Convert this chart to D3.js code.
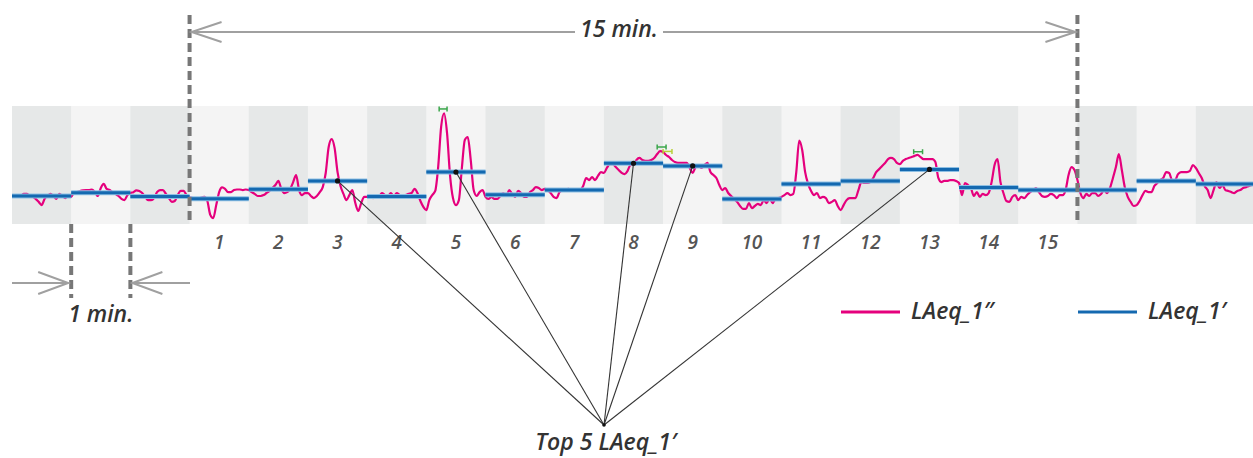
<!DOCTYPE html>
<html lang="en">
<head>
<meta charset="UTF-8">
<title>LAeq 15 min</title>
<script src="https://d3js.org/d3.v7.min.js"></script>
<style>
    body { margin: 0; background: #fff; }
    text { font-family: "Open Sans", "Noto Sans", sans-serif; font-style: italic; font-weight: 600; }
</style>
</head>
<body>
<svg width="1253" height="458"></svg>

<script>
    // minute labels (3 minutes before and after the 15 minute window are unlabelled)
    var minuteLabels = ["", "", "", "1", "2", "3", "4", "5", "6", "7", "8", "9", "10",
        "11", "12", "13", "14", "15", "", "", ""];

    // LAeq_1' per minute (dB)
    var laeqMinute = [49.5, 50.6, 49.3, 48.6, 51.8, 54.6, 49.3, 57.6, 49.9, 51.5, 60.6,
        59.7, 48.5, 53.6, 54.6, 58.5, 52.4, 51.5, 51.5, 54.6, 53.6];

    // LAeq_1" read every 3 s (dB), 20 per minute
    var laeqSecond = [
        49.5, 49.5, 49.2, 49.5, 50.2, 50.2, 49.5, 49.2, 48.5, 47.5, 46.4, 48.5, 49.5, 50.2, 49.5, 48.5, 50.2, 49.5, 48.8, 49.8,
        49.2, 50.7, 50.8, 51.2, 51.4, 51.5, 51.5, 51.7, 50.8, 49.5, 52.2, 53.6, 51.9, 51.5, 50.8, 50.2, 49.5, 48.5, 48.1, 49.8,
        50.5, 50.8, 51.4, 51.2, 50.5, 49.2, 48.1, 48.1, 48.8, 50.8, 51.5, 51.5, 50.2, 48.8, 47.5, 47.8, 49.8, 51.2, 51.2, 49.8,
        49.2, 48.8, 48.3, 48.5, 49.0, 49.2, 47.8, 43.1, 42.0, 46.4, 50.8, 52.4, 51.9, 50.8, 50.8, 51.5, 51.7, 51.7, 51.5, 51.7,
        51.5, 50.8, 50.2, 49.5, 49.5, 49.8, 50.5, 51.2, 52.2, 53.2, 54.6, 51.9, 50.5, 50.8, 51.9, 54.2, 56.6, 51.5, 49.8, 50.5,
        50.5, 49.5, 48.8, 49.5, 50.8, 52.5, 57.3, 66.1, 68.8, 65.8, 57.6, 52.9, 50.2, 48.1, 49.8, 51.5, 47.1, 44.4, 47.1, 49.2,
        49.2, 49.8, 48.8, 49.8, 49.5, 50.5, 49.8, 49.5, 50.5, 49.5, 50.5, 49.8, 49.5, 49.8, 50.2, 50.5, 51.9, 50.5, 47.8, 45.8,
        44.7, 48.1, 49.8, 51.2, 59.3, 72.9, 77.5, 70.8, 56.6, 48.8, 46.4, 48.1, 58.9, 68.5, 69.5, 61.7, 51.5, 49.5, 50.8, 51.5,
        49.2, 48.5, 49.2, 48.5, 48.5, 49.5, 50.5, 49.5, 51.5, 50.2, 49.2, 51.2, 50.5, 49.2, 49.2, 50.8, 51.5, 52.5, 52.2, 51.5,
        51.9, 51.5, 50.5, 49.2, 48.8, 50.8, 51.5, 51.7, 51.9, 51.5, 51.5, 51.2, 51.5, 52.9, 55.6, 54.9, 55.9, 54.9, 56.3, 57.6,
        57.3, 59.0, 60.3, 60.3, 59.3, 58.3, 57.3, 56.9, 58.0, 60.0, 60.0, 61.7, 62.4, 61.7, 61.4, 61.4, 61.7, 62.4, 63.7, 64.7,
        64.4, 63.4, 62.7, 61.7, 61.0, 60.7, 60.7, 60.7, 60.7, 59.0, 57.3, 59.3, 59.7, 59.0, 60.0, 60.7, 57.6, 56.6, 55.6, 53.2,
        51.5, 52.2, 50.5, 49.5, 48.5, 47.5, 46.1, 45.1, 45.1, 47.1, 45.4, 46.1, 46.8, 46.4, 48.1, 47.1, 48.8, 47.1, 48.5, 48.8,
        49.2, 49.8, 50.5, 49.8, 50.2, 57.6, 68.3, 65.1, 57.6, 53.6, 51.2, 49.8, 50.5, 48.8, 49.2, 48.8, 47.1, 47.5, 48.1, 46.1,
        44.7, 46.4, 48.1, 48.8, 48.8, 48.8, 51.5, 54.2, 53.9, 53.9, 54.2, 55.6, 57.6, 58.6, 59.7, 60.7, 62.0, 62.4, 62.0, 60.7,
        60.3, 61.4, 62.0, 62.4, 62.7, 63.1, 63.4, 62.7, 62.0, 62.0, 62.0, 62.0, 61.0, 55.6, 54.2, 54.6, 54.6, 54.9, 54.9, 54.6,
        53.9, 49.8, 53.9, 53.2, 52.2, 49.5, 50.8, 49.2, 50.2, 49.8, 50.5, 54.2, 60.0, 62.0, 54.2, 50.5, 47.8, 47.5, 49.2, 49.8,
        48.1, 49.2, 48.8, 49.8, 50.8, 51.5, 52.2, 50.8, 49.5, 49.2, 49.5, 50.2, 49.8, 48.8, 49.8, 49.8, 51.5, 56.6, 59.3, 58.3,
        54.9, 50.5, 48.8, 50.2, 49.5, 50.5, 50.5, 49.5, 50.2, 51.5, 50.5, 52.2, 55.6, 59.3, 63.7, 58.3, 52.5, 49.2, 47.5, 46.1,
        46.4, 47.8, 49.8, 51.2, 50.8, 50.8, 52.9, 53.9, 54.9, 55.6, 57.6, 57.3, 54.9, 54.9, 56.9, 57.6, 57.6, 57.6, 58.0, 60.0,
        59.0, 57.3, 55.6, 52.9, 51.5, 48.8, 51.5, 54.2, 52.2, 53.2, 51.5, 51.2, 50.8, 50.5, 51.2, 51.5, 52.2, 52.5, 52.9, 53.2
    ];
    var secondStep = 3;

    // the five loudest minutes of the 15 minute window
    var top5Minutes = [3, 5, 8, 9, 13];

    // small max-interval marks above some peaks (seconds, dB)
    var markStart = [433, 654, 660, 914];
    var markEnd = [441, 663, 669, 923];
    var markLevel = [79.0, 66.1, 64.6, 64.5];

    var pink = "#e5007d", blue = "#1469b0";
    var markColors = ["#3aa64a", "#3aa64a", "#b8d03a", "#3aa64a"];

    var svg = d3.select("svg");

    var x = d3.scaleLinear().domain([0, 1260]).range([12, 1255]);
    var y = d3.scaleLinear().domain([40, 80]).range([224, 106]);

    // background columns
    svg.append("g").selectAll("rect")
        .data(minuteLabels)
        .enter().append("rect")
        .attr("x", function (d, i) { return x(i * 60); })
        .attr("width", function (d, i) { return x((i + 1) * 60) - x(i * 60) + 0.5; })
        .attr("y", y(80))
        .attr("height", y(40) - y(80))
        .attr("fill", function (d, i) { return i % 2 === 0 ? "#e6e8e8" : "#f4f4f4"; });

    // minute numbers
    svg.append("g").selectAll("text")
        .data(minuteLabels)
        .enter().append("text")
        .attr("x", function (d, i) { return x(i * 60 + 30); })
        .attr("y", 249)
        .attr("text-anchor", "middle")
        .attr("font-size", 19)
        .attr("fill", "#555")
        .text(function (d) { return d; });

    // LAeq_1"
    var line = d3.line()
        .x(function (d, i) { return x(i * secondStep); })
        .y(function (d) { return y(d); })
        .curve(d3.curveMonotoneX);

    svg.append("path")
        .datum(laeqSecond)
        .attr("d", line)
        .attr("fill", "none")
        .attr("stroke", pink)
        .attr("stroke-width", 2.2);

    // LAeq_1'
    var steps = svg.append("g");
    steps.selectAll("line.halo")
        .data(laeqMinute)
        .enter().append("line")
        .attr("x1", function (d, i) { return x(i * 60); })
        .attr("x2", function (d, i) { return x((i + 1) * 60); })
        .attr("y1", function (d) { return y(d); })
        .attr("y2", function (d) { return y(d); })
        .attr("stroke", "#8dbfe3")
        .attr("stroke-width", 5);
    steps.selectAll("line.step")
        .data(laeqMinute)
        .enter().append("line")
        .attr("x1", function (d, i) { return x(i * 60); })
        .attr("x2", function (d, i) { return x((i + 1) * 60); })
        .attr("y1", function (d) { return y(d); })
        .attr("y2", function (d) { return y(d); })
        .attr("stroke", blue)
        .attr("stroke-width", 3);

    // max marks
    var marks = svg.append("g");
    markStart.forEach(function (s, i) {
        var g = marks.append("g").attr("stroke", markColors[i]).attr("stroke-width", 1.5);
        var yy = y(markLevel[i]);
        g.append("line").attr("x1", x(s)).attr("x2", x(markEnd[i])).attr("y1", yy).attr("y2", yy);
        g.append("line").attr("x1", x(s)).attr("x2", x(s)).attr("y1", yy - 2.5).attr("y2", yy + 2.5);
        g.append("line").attr("x1", x(markEnd[i])).attr("x2", x(markEnd[i])).attr("y1", yy - 2.5).attr("y2", yy + 2.5);
    });

    // dashed boundaries of the 15 minute window
    var dashes = svg.append("g")
        .attr("stroke", "#777")
        .attr("stroke-width", 4)
        .attr("stroke-dasharray", "9,5");
    [180, 1080].forEach(function (t) {
        dashes.append("line").attr("x1", x(t)).attr("x2", x(t)).attr("y1", 15).attr("y2", 224);
    });
    [60, 120].forEach(function (t) {
        dashes.append("line").attr("x1", x(t)).attr("x2", x(t)).attr("y1", 224).attr("y2", 298);
    });

    // arrows
    var arrows = svg.append("g")
        .attr("stroke", "#a0a0a0")
        .attr("stroke-width", 2)
        .attr("fill", "none");

    function head (tipX, tipY, dir, len, half) {
        arrows.append("path")
            .attr("d", "M" + (tipX + dir * len) + "," + (tipY - half) +
                "L" + tipX + "," + tipY +
                "L" + (tipX + dir * len) + "," + (tipY + half));
    }

    var topY = 32;
    arrows.append("line").attr("x1", x(180) + 2).attr("x2", 575).attr("y1", topY).attr("y2", topY);
    arrows.append("line").attr("x1", 663).attr("x2", x(1080) - 2).attr("y1", topY).attr("y2", topY);
    head(x(180) + 2, topY, 1, 30, 10);
    head(x(1080) - 2, topY, -1, 30, 10);

    svg.append("text")
        .attr("x", 619)
        .attr("y", 37)
        .attr("text-anchor", "middle")
        .attr("font-size", 23)
        .attr("fill", "#333")
        .text("15 min.");

    var minY = 283;
    arrows.append("line").attr("x1", 12).attr("x2", x(60) - 3).attr("y1", minY).attr("y2", minY);
    head(x(60) - 3, minY, -1, 30, 11);
    arrows.append("line").attr("x1", x(120) + 2).attr("x2", 190).attr("y1", minY).attr("y2", minY);
    head(x(120) + 2, minY, 1, 30, 11);

    svg.append("text")
        .attr("x", x(90))
        .attr("y", 322)
        .attr("text-anchor", "middle")
        .attr("font-size", 23)
        .attr("fill", "#333")
        .text("1 min.");

    // top 5 pointers
    var hub = [604, 425];
    var pointers = svg.append("g");
    top5Minutes.forEach(function (m) {
        var i = m + 2;
        var px = x(i * 60 + 30), py = y(laeqMinute[i]);
        pointers.append("line")
            .attr("x1", hub[0]).attr("y1", hub[1])
            .attr("x2", px).attr("y2", py)
            .attr("stroke", "#333")
            .attr("stroke-width", 1.1);
        pointers.append("circle")
            .attr("cx", px).attr("cy", py).attr("r", 2.6)
            .attr("fill", "#111");
    });
    pointers.append("circle").attr("cx", hub[0]).attr("cy", hub[1]).attr("r", 1.8).attr("fill", "#111");

    svg.append("text")
        .attr("x", hub[0] + 2)
        .attr("y", 450)
        .attr("text-anchor", "middle")
        .attr("font-size", 23)
        .attr("fill", "#333")
        .text("Top 5 LAeq_1\u2032");

    // legend
    var legend = [
        {label: "LAeq_1\u2033", color: pink, x: 841},
        {label: "LAeq_1\u2032", color: blue, x: 1078}
    ];
    var lg = svg.append("g").selectAll("g")
        .data(legend)
        .enter().append("g")
        .attr("transform", function (d) { return "translate(" + d.x + ",312)"; });
    lg.append("line")
        .attr("x1", 0).attr("x2", 59)
        .attr("stroke", function (d) { return d.color; })
        .attr("stroke-width", 3);
    lg.append("text")
        .attr("x", 70)
        .attr("y", 7)
        .attr("font-size", 23)
        .attr("fill", "#333")
        .text(function (d) { return d.label; });
</script>
</body>
</html>
